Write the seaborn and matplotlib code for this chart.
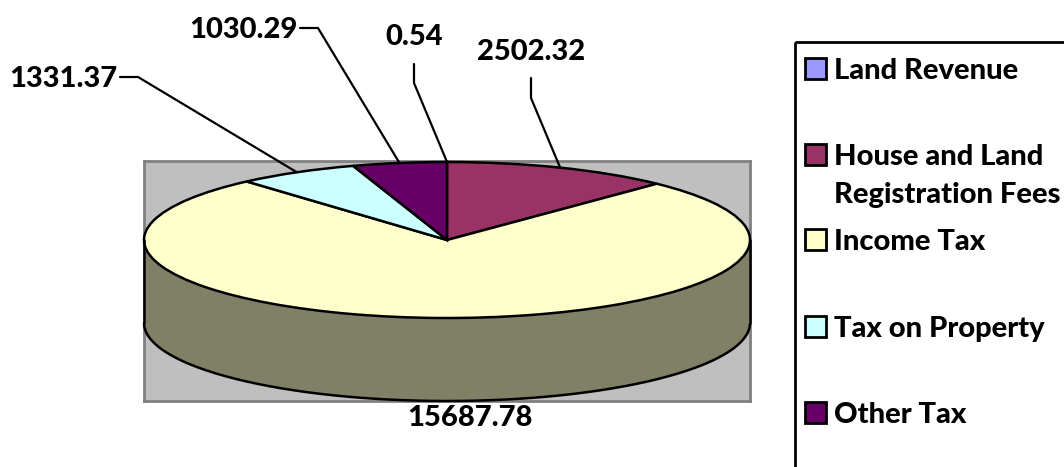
import numpy as np
import matplotlib
matplotlib.use("Agg")
import matplotlib.pyplot as plt
from matplotlib.patches import Rectangle
import seaborn as sns

# Revenue by tax head
categories = ["Land Revenue", "House and Land\nRegistration Fees", "Income Tax",
              "Tax on Property", "Other Tax"]
values = [0.54, 2502.32, 15687.78, 1331.37, 1030.29]
value_labels = ["0.54", "2502.32", "15687.78", "1331.37", "1030.29"]
colors = ["#9999FF", "#993366", "#FFFFCC", "#CCFFFF", "#660066"]

sns.set_theme(style="white")
plt.rcParams['font.family'] = ['Lato', 'DejaVu Sans']
palette = sns.color_palette(colors)

W, H = 1064, 467
fig = plt.figure(figsize=(W / 100, H / 100), dpi=100)
fig.patch.set_facecolor("white")

# plot area of the fake 3D pie, in pixels
left, right, top, bottom = 144, 750, 161, 401
ax = fig.add_axes([left / W, 1 - bottom / H, (right - left) / W, (bottom - top) / H])

wedges, _ = ax.pie(values, colors=palette, startangle=90, counterclock=False,
                   wedgeprops={"edgecolor": "black", "linewidth": 1.8, "zorder": 3})

# squash the circle into an ellipse
depth = 1.064
ax.set_aspect("auto")
ax.set_xlim(-1, 1)
ax.set_ylim(-1 - depth, 1.013)
ax.set_frame_on(True)
ax.set_facecolor("#BFBFBF")
for s in ax.spines.values():
    s.set_color("#808080")
    s.set_linewidth(2)

# side wall, only the front half of each slice shows
for w, c in zip(wedges, palette):
    t = np.radians(np.linspace(w.theta1, w.theta2, 400))
    t = t[np.sin(t) <= 0]
    if len(t) == 0:
        continue
    order = np.argsort(np.cos(t))
    xs, ys = np.cos(t)[order], np.sin(t)[order]
    ax.fill_between(xs, ys, ys - depth, color=tuple(v * 0.5 for v in c), lw=0, zorder=2, clip_on=False)
    ax.plot(xs, ys - depth, color="black", lw=1.8, zorder=4, clip_on=False)
for side in (-1, 1):
    ax.plot([side, side], [0, -depth], color="black", lw=1.8, zorder=4, clip_on=False)

# overlay in pixel coordinates for labels and legend
ov = fig.add_axes([0, 0, 1, 1], facecolor="none")
ov.set_xlim(0, W)
ov.set_ylim(H, 0)
ov.axis("off")

cx, cy, rx, ry = 447, 240, 303, 78
label_pos = [(414, 37), (531, 52), (470, 418), (63, 79), (243, 30)]
elbows = [[(414, 64), (414, 83)], [(531, 78), (531, 98)], None,
          [(120, 77), (138, 77)], [(300, 28), (318, 28)]]

for w, txt, pos, elbow in zip(wedges, value_labels, label_pos, elbows):
    ov.text(pos[0], pos[1], txt, fontsize=21, fontweight="black", color="black",
            ha="center", va="center")
    if elbow is None:
        continue
    mid = np.radians((w.theta1 + w.theta2) / 2)
    end = (cx + rx * np.cos(mid), cy - ry * np.sin(mid))
    pts = elbow + [end]
    ov.plot([p[0] for p in pts], [p[1] for p in pts], color="black", lw=1.6)

# legend box runs off the right and bottom of the picture
ov.add_patch(Rectangle((795, 42), 400, 600, fill=False, edgecolor="black", lw=2))
legend_y = [69, 155, 240, 327, 413]
for name, c, y in zip(categories, palette, legend_y):
    ov.add_patch(Rectangle((805, y - 11), 21, 21, facecolor=c, edgecolor="black", lw=2))
    ov.text(834, y - 11, name, fontsize=21, fontweight="black", color="black",
            ha="left", va="top", linespacing=1.55, clip_on=False)

fig.savefig("out.png", dpi=100)
